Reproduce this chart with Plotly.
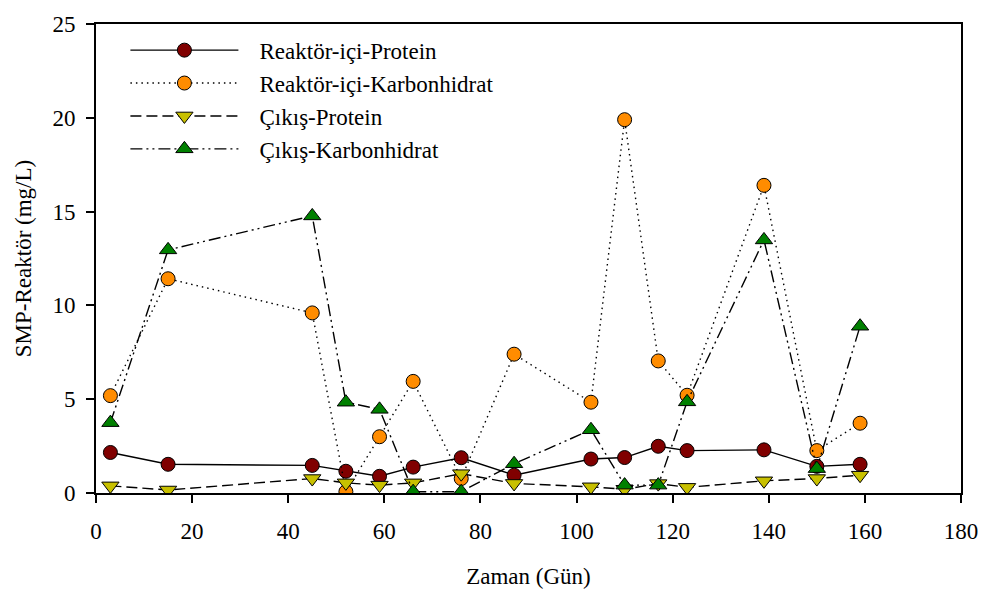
import plotly.graph_objects as go

# Sampling days
days = [3, 15, 45, 52, 59, 66, 76, 87, 103, 110, 117, 123, 139, 150, 159]

# SMP concentrations (mg/L)
reaktor_protein = [2.16, 1.53, 1.47, 1.16, 0.89, 1.38, 1.88, 0.95, 1.81, 1.89, 2.49, 2.26, 2.30, 1.42, 1.53]
reaktor_karbonhidrat = [5.19, 11.42, 9.60, 0.07, 3.00, 5.95, 0.77, 7.40, 4.84, 19.90, 7.04, 5.21, 16.40, 2.26, 3.72]
cikis_protein = [0.38, 0.16, 0.77, 0.54, 0.42, 0.54, 1.03, 0.51, 0.33, 0.20, 0.50, 0.30, 0.65, 0.77, 0.95]
cikis_karbonhidrat = [3.75, 12.96, 14.77, 4.84, 4.46, 0.07, 0.07, 1.56, 3.37, 0.42, 0.42, 4.86, 13.49, 1.30, 8.89]

x_ticks = [0, 20, 40, 60, 80, 100, 120, 140, 160, 180]
y_ticks = [0, 5, 10, 15, 20, 25]

FONT = "Times New Roman"
FS = 23

# name, values, marker symbol, fill colour, line dash, marker size
series = [
    ("Reaktör-içi-Protein", reaktor_protein, "circle", "#800000", "solid", 14),
    ("Reaktör-içi-Karbonhidrat", reaktor_karbonhidrat, "circle", "#FF8C00", "1.5px,4px", 14),
    ("Çıkış-Protein", cikis_protein, "triangle-down", "#C8C000", "11px,5px", 15),
    ("Çıkış-Karbonhidrat", cikis_karbonhidrat, "triangle-up", "#008000", "12px,4px,2px,4px,2px,4px", 15),
]

fig = go.Figure()
for name, vals, sym, col, dash, msize in series:
    fig.add_trace(go.Scatter(
        x=days, y=vals, name="\u2002\u2009" + name, mode="lines+markers",
        line=dict(color="black", width=1.4, dash=dash),
        marker=dict(symbol=sym, size=msize, color=col,
                    line=dict(color="black", width=1)),
    ))

axis_common = dict(
    showline=True, linecolor="black", linewidth=2, mirror=True,
    ticks="outside", ticklen=8, tickwidth=1.5, tickcolor="black",
    showgrid=False, zeroline=False,
    tickfont=dict(family=FONT, size=FS, color="black"),
)

fig.update_layout(
    width=990, height=600,
    margin=dict(l=96, r=28, t=18, b=107),
    plot_bgcolor="white", paper_bgcolor="white",
    font=dict(family=FONT, size=FS, color="black"),
    xaxis=dict(range=[0, 180], tickvals=x_ticks, ticklabelstandoff=8,
               title=dict(text="Zaman (Gün)", font=dict(family=FONT, size=FS), standoff=25),
               **axis_common),
    yaxis=dict(range=[0, 25], tickvals=y_ticks, ticklabelstandoff=6,
               title=dict(text="SMP-Reaktör (mg/L)", font=dict(family=FONT, size=FS), standoff=14),
               **axis_common),
    legend=dict(x=0.034, y=0.99, xanchor="left", yanchor="top",
                bgcolor="rgba(0,0,0,0)", borderwidth=0,
                itemwidth=108, font=dict(family=FONT, size=FS),
                tracegroupgap=0),
    showlegend=True,
)

fig.write_html("out.html")
